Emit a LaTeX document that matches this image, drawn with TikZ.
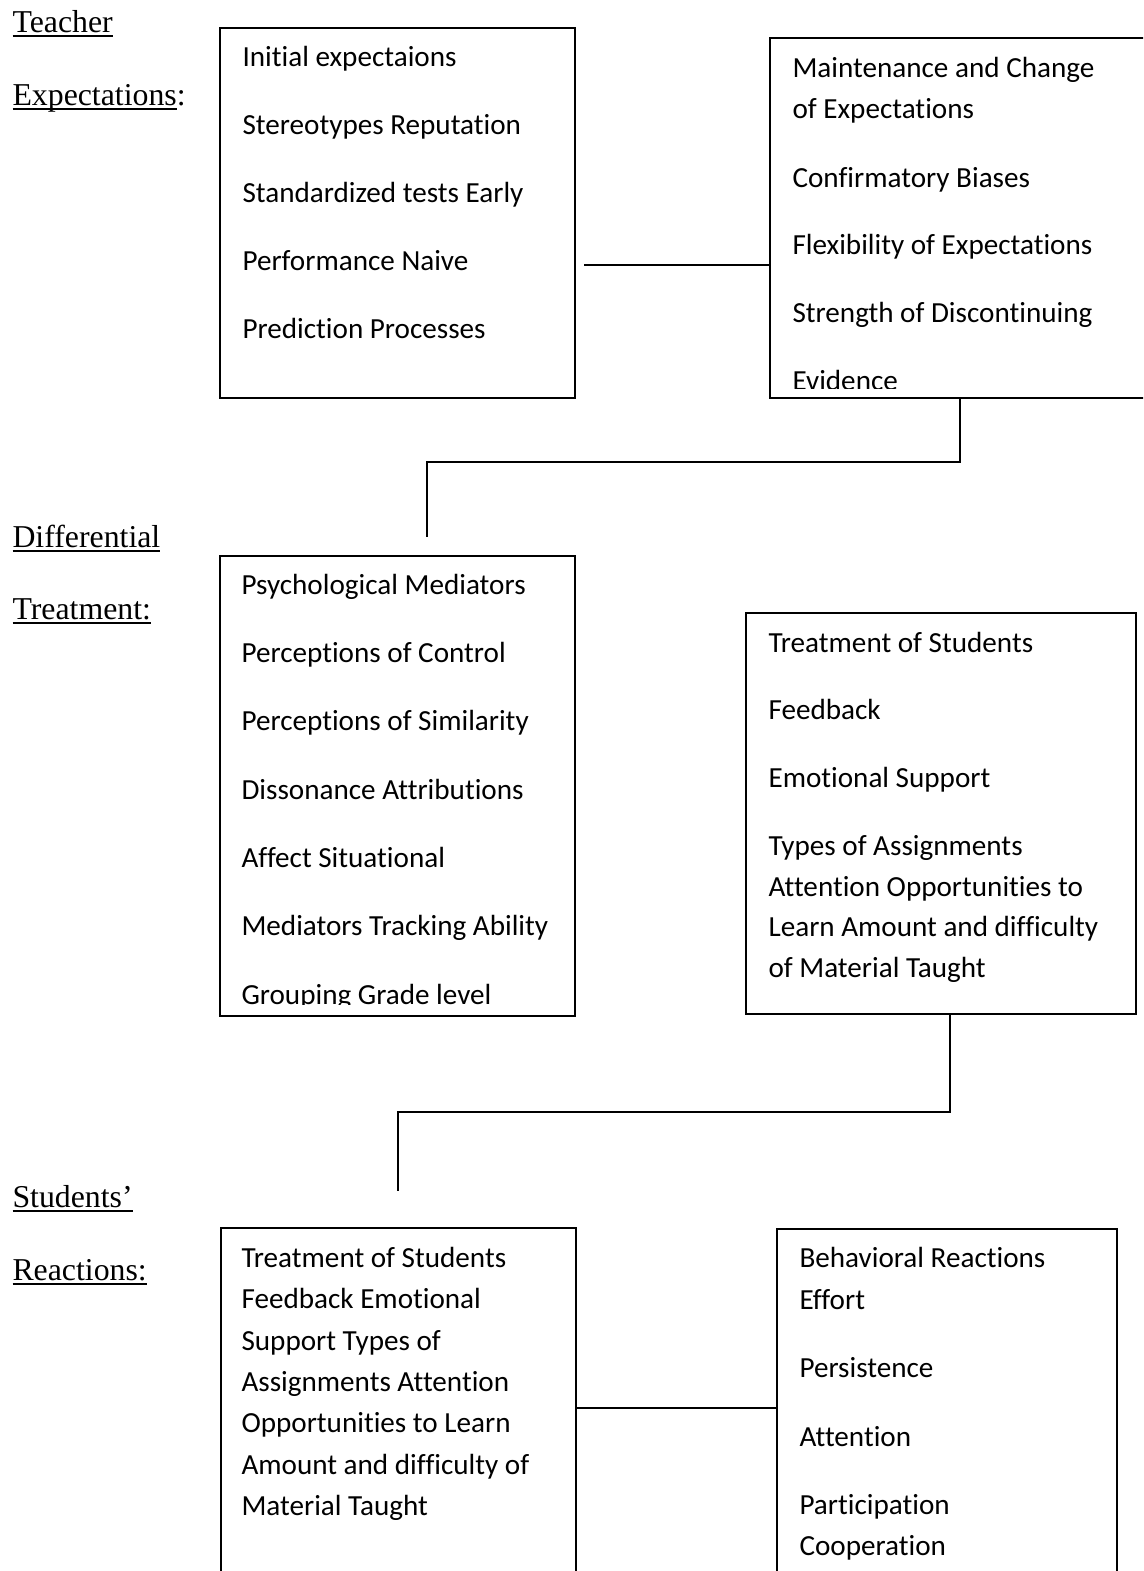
\documentclass[tikz,border=0pt]{standalone}
\usepackage{fontspec}
\setmainfont{Carlito}[Ligatures={NoCommon}]
\newfontfamily\tnr{Liberation Serif}
\def\PX{0.37736pt}
\newcommand\ulx[1]{\setbox0\hbox{#1}\rlap{\rule[-1.7pt]{\wd0}{0.7pt}}\box0}
\tikzset{
  box/.style={draw, line width=0.75pt, inner sep=0pt, outer sep=0pt, anchor=north west},
  txt/.style={anchor=base west, inner sep=0pt, font=\fontsize{11}{13}\selectfont},
  lbl/.style={anchor=base west, inner sep=0pt, font=\tnr\fontsize{12}{14}\selectfont},
  conn/.style={line width=0.75pt}
}
\begin{document}
\begin{tikzpicture}[x=0.37736pt, y=-0.37736pt]
\useasboundingbox (0,0) rectangle (1143,1571);
\clip (0,0) rectangle (1143,1571);

% left labels
\node[lbl] (l1) at (12,32) {\ulx{Teacher}};
\node[lbl] (l2) at (12,105) {\ulx{Expectations}:};
\node[lbl] (l3) at (12,547) {\ulx{Differential}};
\node[lbl] (l4) at (12,619) {\ulx{Treatment:}};
\node[lbl] (l5) at (12,1207) {\ulx{Students’}};
\node[lbl] (l6) at (12,1280) {\ulx{Reactions:}};

% boxes
\node[box, minimum width=355*\PX, minimum height=370*\PX] (te1) at (220,28) {};
\node[box, minimum width=400*\PX, minimum height=360*\PX] (te2) at (770,38) {};
\node[box, minimum width=355*\PX, minimum height=460*\PX] (dt1) at (220,556) {};
\node[box, minimum width=390*\PX, minimum height=401*\PX] (dt2) at (746,613) {};
\node[box, minimum width=355*\PX, minimum height=400*\PX] (sr1) at (221,1228) {};
\node[box, minimum width=340*\PX, minimum height=400*\PX] (sr2) at (777,1229) {};

% texts
\foreach \yy/\ltxt [count=\i] in {66/Initial expectaions, 134/Stereotypes Reputation, 202/Standardized tests Early, 270/Performance Naive, 338/Prediction Processes}
  \node[txt] (xa\i) at (242,\yy) {\ltxt};

\begin{scope}
\clip (770,38) rectangle (1143,388);
\foreach \yy/\ltxt [count=\i] in {77/Maintenance and Change, 118/of Expectations, 187/Confirmatory Biases, 254/Flexibility of Expectations, 322/Strength of Discontinuing, 390/Evidence}
  \node[txt] (xb\i) at (792,\yy) {\ltxt};
\end{scope}

\begin{scope}
\clip (220,556) rectangle (575,1004);
\foreach \yy/\ltxt [count=\i] in {594/Psychological Mediators, 662/Perceptions of Control, 730/Perceptions of Similarity, 799/Dissonance Attributions, 867/Affect Situational, 935/Mediators Tracking Ability, 1004/Grouping Grade level}
  \node[txt] (xc\i) at (241,\yy) {\ltxt};
\end{scope}

\foreach \yy/\ltxt [count=\i] in {652/Treatment of Students, 719/Feedback, 787/Emotional Support, 855/Types of Assignments, 896/Attention Opportunities to, 936/Learn Amount and difficulty, 977/of Material Taught}
  \node[txt] (xd\i) at (768,\yy) {\ltxt};

\foreach \yy/\ltxt [count=\i] in {1267/Treatment of Students, 1308/Feedback Emotional, 1350/Support Types of, 1391/Assignments Attention, 1432/Opportunities to Learn, 1474/Amount and difficulty of, 1515/Material Taught}
  \node[txt] (xe\i) at (241,\yy) {\ltxt};

\foreach \yy/\ltxt [count=\i] in {1267/Behavioral Reactions, 1309/Effort, 1377/Persistence, 1446/Attention, 1514/Participation, 1555/Cooperation}
  \node[txt] (xf\i) at (799,\yy) {\ltxt};

% connectors
\coordinate (a1) at (584,265);
\draw[conn] (a1) -- (a1 -| te2.west);
\coordinate (v1) at (960,0);
\coordinate (j1) at (427,462);
\coordinate (e1) at (427,537);
\draw[conn] (v1 |- te2.south) |- (j1) -- (e1);
\coordinate (v2) at (950,0);
\coordinate (j2) at (398,1112);
\coordinate (e2) at (398,1191);
\draw[conn] (v2 |- dt2.south) |- (j2) -- (e2);
\coordinate (a3) at (0,1408);
\draw[conn] (a3 -| sr1.east) -- (a3 -| sr2.west);
\end{tikzpicture}
\end{document}
